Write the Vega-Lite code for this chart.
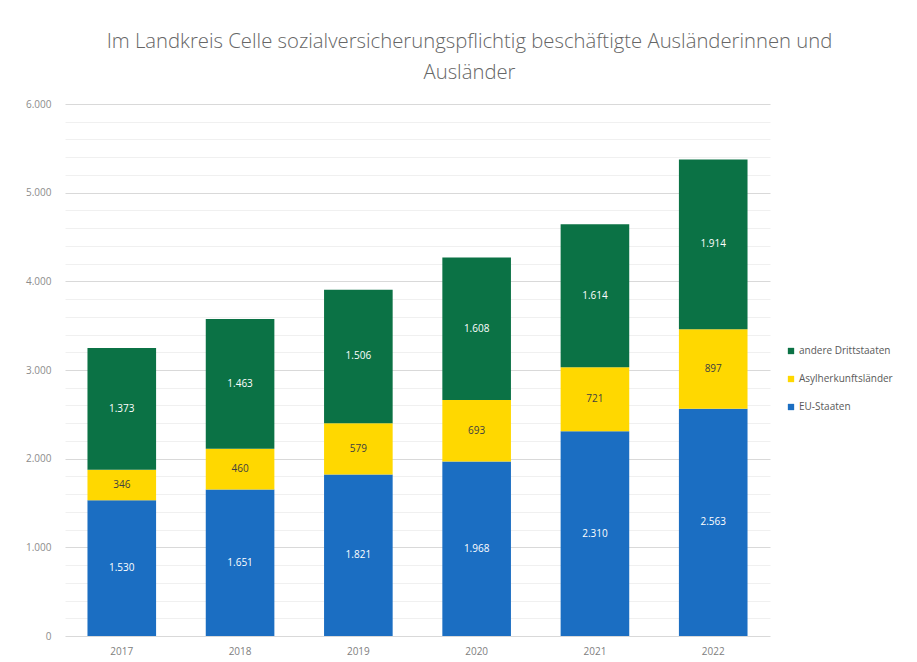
{
  "$schema": "https://vega.github.io/schema/vega-lite/v6.json",
  "width": 705,
  "height": 532,
  "autosize": {"type": "none"},
  "padding": {"left": 65, "top": 104, "right": 147, "bottom": 26},
  "background": "white",
  "title": {
    "text": ["Im Landkreis Celle sozialversicherungspflichtig beschäftigte Ausländerinnen und", "Ausländer"],
    "fontSize": 20.3,
    "font": "Open Sans",
    "fontWeight": 300,
    "color": "#666666",
    "lineHeight": 31,
    "offset": 16,
    "anchor": "middle",
    "dx": 52
  },
  "data": {
    "values": [
      {"year": "2017", "cat": "EU-Staaten", "ord": 1, "value": 1530},
      {"year": "2017", "cat": "Asylherkunftsländer", "ord": 2, "value": 346},
      {"year": "2017", "cat": "andere Drittstaaten", "ord": 3, "value": 1373},
      {"year": "2018", "cat": "EU-Staaten", "ord": 1, "value": 1651},
      {"year": "2018", "cat": "Asylherkunftsländer", "ord": 2, "value": 460},
      {"year": "2018", "cat": "andere Drittstaaten", "ord": 3, "value": 1463},
      {"year": "2019", "cat": "EU-Staaten", "ord": 1, "value": 1821},
      {"year": "2019", "cat": "Asylherkunftsländer", "ord": 2, "value": 579},
      {"year": "2019", "cat": "andere Drittstaaten", "ord": 3, "value": 1506},
      {"year": "2020", "cat": "EU-Staaten", "ord": 1, "value": 1968},
      {"year": "2020", "cat": "Asylherkunftsländer", "ord": 2, "value": 693},
      {"year": "2020", "cat": "andere Drittstaaten", "ord": 3, "value": 1608},
      {"year": "2021", "cat": "EU-Staaten", "ord": 1, "value": 2310},
      {"year": "2021", "cat": "Asylherkunftsländer", "ord": 2, "value": 721},
      {"year": "2021", "cat": "andere Drittstaaten", "ord": 3, "value": 1614},
      {"year": "2022", "cat": "EU-Staaten", "ord": 1, "value": 2563},
      {"year": "2022", "cat": "Asylherkunftsländer", "ord": 2, "value": 897},
      {"year": "2022", "cat": "andere Drittstaaten", "ord": 3, "value": 1914}
    ]
  },
  "transform": [
    {"stack": "value", "groupby": ["year"], "sort": [{"field": "ord", "order": "ascending"}], "as": ["v0", "v1"]},
    {"calculate": "(datum.v0 + datum.v1) / 2", "as": "mid"}
  ],
  "encoding": {
    "x": {
      "field": "year",
      "type": "ordinal",
      "scale": {"paddingInner": 0.42, "paddingOuter": 0.19},
      "axis": {
        "title": null,
        "labelAngle": 0,
        "ticks": false,
        "domain": false,
        "labelPadding": 10,
        "labelFontSize": 10,
        "labelFont": "Open Sans",
        "labelColor": "#808080"
      }
    }
  },
  "layer": [
    {
      "mark": {"type": "bar"},
      "encoding": {
        "y": {
          "field": "v0",
          "type": "quantitative",
          "scale": {"domain": [0, 6000], "nice": false},
          "axis": {
            "title": null,
            "values": [0, 200, 400, 600, 800, 1000, 1200, 1400, 1600, 1800, 2000, 2200, 2400, 2600, 2800, 3000, 3200, 3400, 3600, 3800, 4000, 4200, 4400, 4600, 4800, 5000, 5200, 5400, 5600, 5800, 6000],
            "labelExpr": "datum.value % 1000 === 0 ? replace(format(datum.value, ','), ',', '.') : ''",
            "domain": false,
            "ticks": false,
            "labelPadding": 14,
            "labelFontSize": 10,
            "labelFont": "Open Sans",
            "labelColor": "#8c8c8c",
            "grid": true,
            "gridColor": {"condition": {"test": "datum.value % 1000 === 0", "value": "#d9d9d9"}, "value": "#f0f0f0"},
            "gridWidth": 1
          }
        },
        "y2": {"field": "v1"},
        "color": {
          "field": "cat",
          "type": "nominal",
          "scale": {
            "domain": ["andere Drittstaaten", "Asylherkunftsländer", "EU-Staaten"],
            "range": ["#0b7245", "#ffd800", "#1b6ec2"]
          },
          "legend": {
            "title": null,
            "orient": "none",
            "legendX": 721,
            "legendY": 242,
            "symbolType": "square",
            "symbolSize": 40,
            "symbolStrokeWidth": 0,
            "labelFontSize": 10,
            "labelFont": "Open Sans",
            "labelColor": "#595959",
            "rowPadding": 18,
            "labelOffset": 3
          }
        }
      }
    },
    {
      "mark": {"type": "text", "fontSize": 10, "font": "Open Sans", "baseline": "middle", "align": "center"},
      "encoding": {
        "y": {
          "field": "mid",
          "type": "quantitative",
          "scale": {"domain": [0, 6000], "nice": false},
          "axis": {
            "title": null,
            "values": [0, 200, 400, 600, 800, 1000, 1200, 1400, 1600, 1800, 2000, 2200, 2400, 2600, 2800, 3000, 3200, 3400, 3600, 3800, 4000, 4200, 4400, 4600, 4800, 5000, 5200, 5400, 5600, 5800, 6000],
            "labelExpr": "datum.value % 1000 === 0 ? replace(format(datum.value, ','), ',', '.') : ''",
            "domain": false,
            "ticks": false,
            "labelPadding": 14,
            "labelFontSize": 10,
            "labelFont": "Open Sans",
            "labelColor": "#8c8c8c",
            "grid": true,
            "gridColor": {"condition": {"test": "datum.value % 1000 === 0", "value": "#d9d9d9"}, "value": "#f0f0f0"},
            "gridWidth": 1
          }
        },
        "text": {"field": "value", "type": "quantitative", "format": ",d"},
        "color": {
          "condition": {"test": "datum.cat === 'Asylherkunftsländer'", "value": "#404040"},
          "value": "#ffffff"
        }
      }
    }
  ],
  "config": {
    "view": {"stroke": null},
    "locale": {"number": {"decimal": ",", "thousands": ".", "grouping": [3], "currency": ["", " €"]}}
  }
}
